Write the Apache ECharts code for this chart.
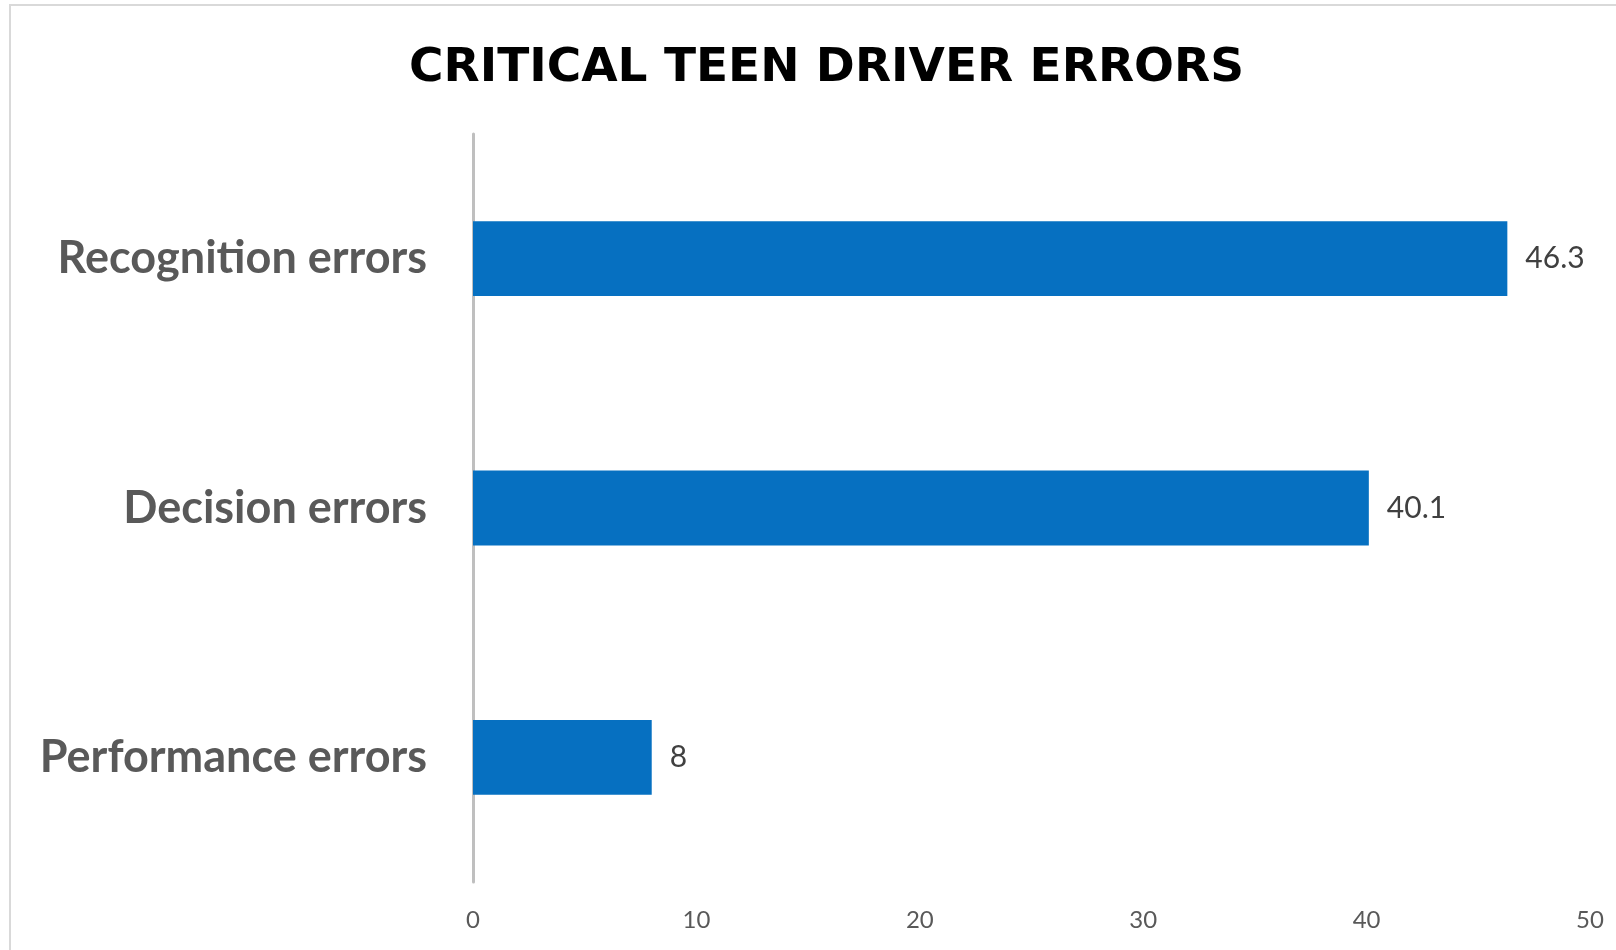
<!DOCTYPE html>
<html>
<head>
<meta charset="utf-8">
<script src="https://cdn.jsdelivr.net/npm/echarts@6/dist/echarts.min.js"></script>
<style>
  html, body { margin: 0; padding: 0; background: #fff; }
  #chart { width: 1616px; height: 950px; }
</style>
</head>
<body>
<div id="chart"></div>
<script>
// data
const categories = ['Performance errors', 'Decision errors', 'Recognition errors']
const errorValues = [8, 40.1, 46.3]
const xTicks = [0, 10, 20, 30, 40, 50]

const chart = echarts.init(document.getElementById('chart'))

const option = {
  backgroundColor: '#fff',
  animation: false,
  title: {
    text: 'CRITICAL TEEN DRIVER ERRORS',
    left: 404,
    top: 40,
    textStyle: {
      fontFamily: 'DejaVu Sans',
      fontWeight: 'bold',
      fontSize: 47,
      color: '#000'
    }
  },
  // outer chart frame
  graphic: [{
    type: 'rect',
    shape: { x: 10, y: 5, width: 1640, height: 980 },
    style: { fill: 'none', stroke: '#d9d9d9', lineWidth: 2 },
    silent: true
  }],
  grid: { left: 473, right: 26, top: 134, bottom: 68 },
  xAxis: {
    type: 'value',
    min: xTicks[0],
    max: xTicks[xTicks.length - 1],
    interval: 10,
    axisLine: { show: false },
    axisTick: { show: false },
    splitLine: { show: false },
    axisLabel: {
      margin: 26,
      fontFamily: 'Lato',
      fontSize: 24,
      color: '#595959'
    }
  },
  yAxis: {
    type: 'category',
    data: categories,
    axisLine: { show: true, lineStyle: { color: '#bfbfbf', width: 3 } },
    axisTick: { show: false },
    axisLabel: {
      margin: 46,
      fontFamily: 'Lato',
      fontWeight: 'bold',
      fontSize: 45,
      color: '#595959'
    }
  },
  series: [{
    type: 'bar',
    data: errorValues,
    barWidth: '30%',
    itemStyle: { color: '#0670c1' },
    label: {
      show: true,
      position: 'right',
      distance: 18,
      fontFamily: 'Lato',
      fontSize: 30,
      color: '#404040'
    }
  }]
}

chart.setOption(option)
</script>
</body>
</html>
